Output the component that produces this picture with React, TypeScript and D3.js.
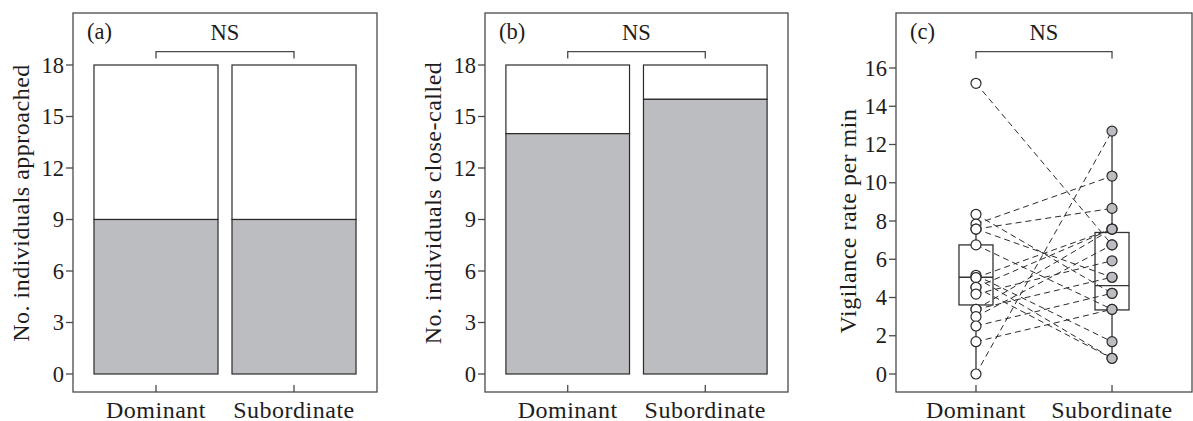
import React from "react";
import * as d3 from "d3";

const categories = ["Dominant", "Subordinate"];
const approachedYes = [9, 9];
const approachedTotal = [18, 18];
const closeCalledYes = [14, 16];
const closeCalledTotal = [18, 18];
const barTicks = [0, 3, 6, 9, 12, 15, 18];
const vigTicks = [0, 2, 4, 6, 8, 10, 12, 14, 16];

// paired vigilance rates (dominant -> subordinate)
const domRates = [15.2, 8.35, 7.84, 7.58, 7.58, 6.75, 5.16, 5.04, 5.04, 4.53, 4.53, 4.18, 3.38, 3.38, 3.0, 2.51, 1.69, 0];
const subRates = [6.75, 4.22, 10.35, 8.66, 5.06, 3.38, 1.69, 0.82, 7.58, 0.82, 7.58, 5.92, 7.58, 5.06, 6.75, 4.22, 3.38, 12.7];

// box plot statistics [Dominant, Subordinate]
const boxQ1 = [3.61, 3.35];
const boxMedian = [5.06, 4.62];
const boxQ3 = [6.75, 7.4];
const whiskerLow = [0, 0.82];
const whiskerHigh = [8.35, 12.7];

const FONT = "'Liberation Serif', 'Times New Roman', serif";
const TXT = "#1e1c1d";
const FRAME = "#4a4a4a";
const GREY = "#bcbdc0";

type Frame = { x0: number; x1: number; y0: number; y1: number };

function Axes({ f, y, ticks, label, labelX, labelY, xs, tag }: any) {
  return (
    <g>
      <rect x={f.x0} y={f.y0} width={f.x1 - f.x0} height={f.y1 - f.y0} fill="none" stroke={FRAME} strokeWidth={1.3} />
      {ticks.map((t: number) => (
        <g key={t}>
          <line x1={f.x0 - 7} x2={f.x0} y1={y(t)} y2={y(t)} stroke={FRAME} strokeWidth={1.3} />
          <text x={f.x0 - 9} y={y(t) + 7.5} textAnchor="end" fontSize={22.5} fontFamily={FONT} fill={TXT}>{t}</text>
        </g>
      ))}
      {categories.map((c, i) => (
        <g key={c}>
          <line x1={xs[i]} x2={xs[i]} y1={f.y1} y2={f.y1 - 7} stroke={FRAME} strokeWidth={1.3} />
          <text x={xs[i]} y={417.5} textAnchor="middle" fontSize={24} letterSpacing={0.5} fontFamily={FONT} fill={TXT}>{c}</text>
        </g>
      ))}
      <text transform={`translate(${labelX},${labelY}) rotate(-90)`} textAnchor="middle" fontSize={24} letterSpacing={0.5} fontFamily={FONT} fill={TXT}>{label}</text>
      <text x={f.x0 + 14} y={38.5} fontSize={22.5} fontFamily={FONT} fill={TXT}>{tag}</text>
      <text x={(xs[0] + xs[1]) / 2} y={39.5} textAnchor="middle" fontSize={22.5} fontFamily={FONT} fill={TXT}>NS</text>
      <path d={`M${xs[0]},58.5V51.7H${xs[1]}V58.5`} fill="none" stroke={FRAME} strokeWidth={1.3} />
    </g>
  );
}

function BarPanel({ f, yes, total, label, labelX, tag }: any) {
  const x = d3.scaleBand<string>().domain(categories).range([f.x0, f.x1]).paddingInner(0.1014).paddingOuter(0.152);
  const y = d3.scaleLinear().domain([0, 18]).range([374, 65]);
  const xs = categories.map((c) => (x(c) as number) + x.bandwidth() / 2);
  return (
    <g>
      {categories.map((c, i) => (
        <g key={c}>
          <rect x={x(c)} y={y(total[i])} width={x.bandwidth()} height={y(yes[i]) - y(total[i])} fill="#fff" stroke="#2b2b2b" strokeWidth={1.2} />
          <rect x={x(c)} y={y(yes[i])} width={x.bandwidth()} height={y(0) - y(yes[i])} fill={GREY} stroke="#2b2b2b" strokeWidth={1.2} />
        </g>
      ))}
      <Axes f={f} y={y} ticks={barTicks} label={label} labelX={labelX} labelY={203} xs={xs} tag={tag} />
    </g>
  );
}

function VigilancePanel({ f }: { f: Frame }) {
  const x = d3.scalePoint<string>().domain(categories).range([f.x0, f.x1]).padding(0.588);
  const y = d3.scaleLinear().domain([0, 16]).range([374, 68]);
  const xs = categories.map((c) => x(c) as number);
  const hw = 17;
  return (
    <g>
      {categories.map((c, i) => (
        <g key={c}>
          <line x1={xs[i]} x2={xs[i]} y1={y(whiskerLow[i])} y2={y(whiskerHigh[i])} stroke="#333" strokeWidth={1.3} />
          <rect x={xs[i] - hw} y={y(boxQ3[i])} width={hw * 2} height={y(boxQ1[i]) - y(boxQ3[i])} fill="#fff" stroke="#333" strokeWidth={1.3} />
          <line x1={xs[i] - hw} x2={xs[i] + hw} y1={y(boxMedian[i])} y2={y(boxMedian[i])} stroke="#333" strokeWidth={1.3} />
        </g>
      ))}
      {domRates.map((d, i) => (
        <line key={"l" + i} x1={xs[0]} y1={y(d)} x2={xs[1]} y2={y(subRates[i])} stroke="#2b2b2b" strokeWidth={1} strokeDasharray="6,4" />
      ))}
      {domRates.map((d, i) => (
        <circle key={"d" + i} cx={xs[0]} cy={y(d)} r={5} fill="#fff" stroke="#2b2b2b" strokeWidth={1.2} />
      ))}
      {subRates.map((s, i) => (
        <circle key={"s" + i} cx={xs[1]} cy={y(s)} r={5} fill={GREY} stroke="#2b2b2b" strokeWidth={1.2} />
      ))}
      <Axes f={f} y={y} ticks={vigTicks} label="Vigilance rate per min" labelX={856} labelY={221} xs={xs} tag="(c)" />
    </g>
  );
}

export default function App() {
  return (
    <svg width={1193} height={421} style={{ position: "absolute", left: 0, top: 0, background: "#fff" }}>
      <rect width={1193} height={421} fill="#fff" />
      <BarPanel f={{ x0: 73, x1: 377, y0: 13, y1: 392 }} yes={approachedYes} total={approachedTotal} label="No. individuals approached" labelX={29} tag="(a)" />
      <BarPanel f={{ x0: 485, x1: 788, y0: 13, y1: 392 }} yes={closeCalledYes} total={closeCalledTotal} label="No. individuals close-called" labelX={441} tag="(b)" />
      <VigilancePanel f={{ x0: 896, x1: 1192, y0: 13, y1: 392 }} />
    </svg>
  );
}
